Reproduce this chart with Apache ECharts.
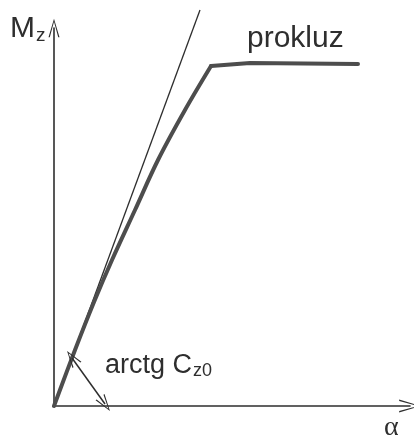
<!DOCTYPE html>
<html>
<head>
<meta charset="utf-8">
<script src="https://cdn.jsdelivr.net/npm/echarts@6/dist/echarts.min.js"></script>
<style>
  html, body { margin: 0; padding: 0; background: #ffffff; }
  #chart { width: 414px; height: 441px; }
</style>
</head>
<body>
<div id="chart"></div>
<script>
// Tyre self-aligning moment vs. slip angle: gently bending rise, then slip plateau
const riseAlpha = [0, 21, 40, 58, 81, 104, 131, 157];
const riseMoment = [0, 56, 104, 146, 196, 246, 296, 340];
const plateauAlpha = [157, 196, 304];
const plateauMoment = [340, 343, 342];

// Initial tangent (slope C_z0) drawn from the origin
const tangentAlpha = [0, 146];
const tangentMoment = [0, 396];

// Angle marker between the tangent and the alpha axis
const angleFrom = [18, 48];
const angleTo = [51, 2];

const ink = '#2e2e2e';
const curveInk = '#4d4d4d';
const chevron = 'path://M0,20 L6,0 L12,20 L10.6,20 L6,3.2 L1.4,20 Z';

const pairs = (xs, ys) => xs.map((x, i) => [x, ys[i]]);

const chart = echarts.init(document.getElementById('chart'));
chart.setOption({
  backgroundColor: '#ffffff',
  animation: false,
  grid: { left: 54, top: 28, width: 356, bottom: 35 },
  xAxis: {
    type: 'value', min: 0, max: 356,
    axisLine: { show: true, symbol: ['none', chevron], symbolSize: [13, 22],
      lineStyle: { color: ink, width: 1.6 } },
    axisTick: { show: false }, axisLabel: { show: false }, splitLine: { show: false }
  },
  yAxis: {
    type: 'value', min: 0, max: 378,
    axisLine: { show: true, symbol: ['none', chevron], symbolSize: [11, 20],
      lineStyle: { color: ink, width: 1.6 } },
    axisTick: { show: false }, axisLabel: { show: false }, splitLine: { show: false }
  },
  series: [
    {
      type: 'line',
      data: pairs(tangentAlpha, tangentMoment),
      symbol: 'none', clip: false,
      lineStyle: { color: ink, width: 1.3 }
    },
    {
      type: 'line',
      data: pairs(riseAlpha, riseMoment),
      symbol: 'none', clip: false, smooth: 0.35,
      lineStyle: { color: curveInk, width: 4, cap: 'round' },
      markLine: {
        silent: true,
        symbol: [chevron, chevron],
        symbolSize: [11, 17],
        label: { show: false },
        lineStyle: { color: ink, width: 1.5, type: 'solid', curveness: 0.08 },
        data: [[{ coord: angleFrom }, { coord: angleTo }]]
      }
    },
    {
      type: 'line',
      data: pairs(plateauAlpha, plateauMoment),
      symbol: 'none', clip: false,
      lineStyle: { color: curveInk, width: 4, join: 'round', cap: 'round' }
    }
  ],
  graphic: [
    {
      type: 'text', left: 10, top: 14,
      style: {
        text: '{m|M}{s|z}',
        rich: {
          m: { fontFamily: 'Liberation Sans', fontSize: 30, fill: ink },
          s: { fontFamily: 'Liberation Sans', fontSize: 19, fill: ink, padding: [14, 0, 0, 1] }
        }
      }
    },
    {
      type: 'text', left: 247, top: 24,
      style: { text: 'prokluz', fontFamily: 'Liberation Sans', fontSize: 30, fill: ink }
    },
    {
      type: 'text', left: 105, top: 352,
      style: {
        text: '{a|arctg C}{s|z0}',
        rich: {
          a: { fontFamily: 'Liberation Sans', fontSize: 27, fill: ink },
          s: { fontFamily: 'Liberation Sans', fontSize: 18, fill: ink, padding: [12, 0, 0, 1] }
        }
      }
    },
    {
      type: 'text', left: 384, top: 414,
      style: { text: 'α', fontFamily: 'Liberation Serif', fontSize: 28, fill: ink }
    }
  ]
});
</script>
</body>
</html>
